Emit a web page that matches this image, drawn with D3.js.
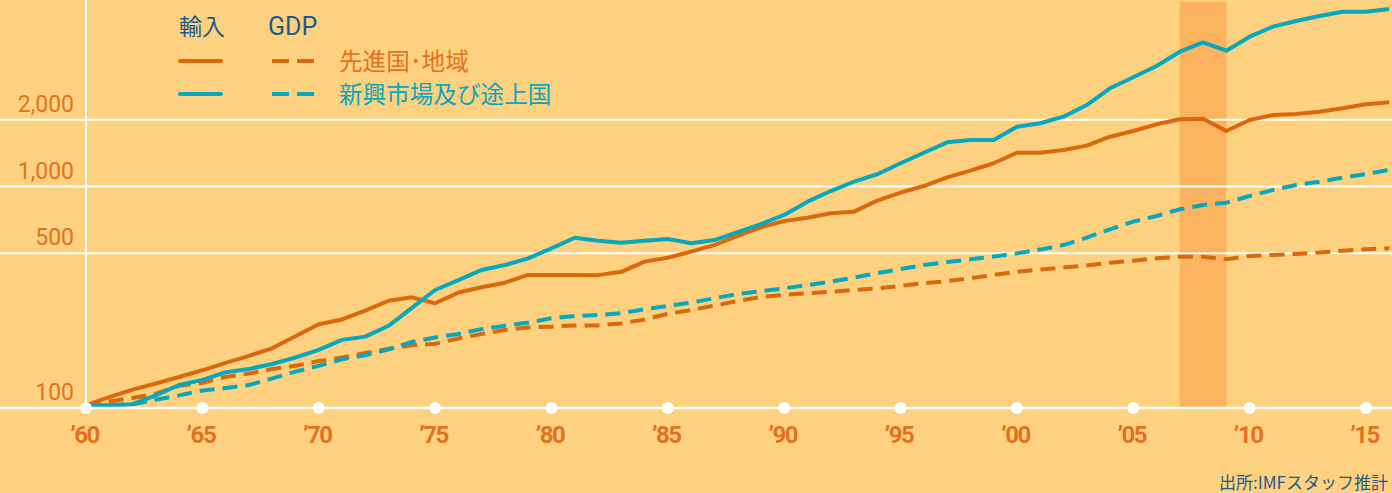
<!DOCTYPE html>
<html>
<head>
<meta charset="utf-8">
<script src="https://cdn.jsdelivr.net/npm/d3@7"></script>
<style>
  body { margin: 0; background: #FDD17F; }
  svg { display: block; }
</style>
</head>
<body>
<div class="chart_wrapper"></div>
<script>

// years 1960 - 2016, index 1960 = 100 (log scale)
const years = d3.range(1960, 2017)

const importsAdvanced = [
  103, 112, 121, 129, 138, 148, 160, 172, 186, 211,
  239, 251, 275, 305, 316, 297, 332, 351, 368, 399,
  399, 399, 398, 412, 458, 477, 508, 544, 598, 654,
  699, 723, 757, 770, 863, 938, 1005, 1100, 1179, 1273,
  1421, 1421, 1462, 1529, 1678, 1781, 1909, 2011, 2024, 1781,
  1996, 2103, 2125, 2176, 2255, 2350, 2399]

const importsEmerging = [
  103, 103, 104, 114, 127, 134, 145, 150, 158, 169,
  183, 203, 210, 235, 283, 341, 378, 420, 442, 474,
  526, 587, 569, 557, 569, 579, 554, 573, 622, 677,
  744, 854, 954, 1051, 1136, 1273, 1421, 1583, 1621, 1621,
  1862, 1929, 2066, 2333, 2776, 3112, 3499, 4061, 4477, 4103,
  4746, 5267, 5587, 5885, 6154, 6154, 6329]

const gdpAdvanced = [
  103, 107, 111, 116, 126, 130, 138, 143, 150, 155,
  163, 169, 177, 185, 192, 195, 206, 216, 225, 231,
  233, 236, 236, 241, 251, 266, 277, 290, 304, 317,
  324, 330, 335, 341, 347, 356, 366, 374, 385, 399,
  412, 422, 431, 440, 453, 462, 474, 482, 482, 469,
  486, 491, 496, 503, 513, 521, 526]

const gdpEmerging = [
  103, 103, 104, 109, 114, 120, 123, 127, 136, 146,
  155, 166, 173, 184, 199, 208, 216, 227, 235, 243,
  254, 260, 263, 268, 279, 289, 299, 313, 327, 337,
  347, 359, 372, 388, 406, 424, 442, 456, 469, 483,
  499, 519, 544, 588, 641, 694, 736, 789, 825, 845,
  906, 964, 1016, 1051, 1096, 1139, 1187]

const yTicks = [100, 500, 1000, 2000]
const xTicks = d3.range(1960, 2016, 5)
const crisisYears = [2007, 2009]

const legendHeads = ["輸入", "GDP"]
const groupNames = ["先進国･地域", "新興市場及び途上国"]
const sourceText = "出所:IMFスタッフ推計"


function drawChart() {

  let dimensions = {
    width: 1392,
    height: 493,
    margin: { top: 0, right: 3, bottom: 85, left: 86 },
  }
  dimensions.boundedWidth = 1366 - dimensions.margin.left
  dimensions.boundedHeight = dimensions.height - dimensions.margin.bottom

  const colors = {
    bg: "#FDD17F",
    orange: "#DB680C",
    teal: "#07A7BE",
    label: "#E3721F",
    navy: "#1D5A8C",
    band: "#FBB35F",
  }

  const wrapper = d3.select(".chart_wrapper")
    .append("svg")
      .attr("width", dimensions.width)
      .attr("height", dimensions.height)
      .style("background", colors.bg)

  const xScale = d3.scaleLinear()
    .domain([1960, 2015])
    .range([dimensions.margin.left, 1366])

  // log scale, 100 sits on the axis
  const yScale = d3.scaleLog()
    .domain([100, 1000])
    .range([408, 186.5])

  // shaded band (2007-09)
  wrapper.append("rect")
    .attr("x", xScale(crisisYears[0]))
    .attr("y", 2)
    .attr("width", xScale(crisisYears[1]) - xScale(crisisYears[0]))
    .attr("height", yScale(100) - 2)
    .attr("fill", colors.band)

  // gridlines
  wrapper.append("g")
    .selectAll("line")
    .data(yTicks)
    .join("line")
      .attr("x1", 0)
      .attr("x2", dimensions.width)
      .attr("y1", d => yScale(d))
      .attr("y2", d => yScale(d))
      .attr("stroke", "#fff")
      .attr("stroke-width", 2)

  // vertical axis line
  wrapper.append("line")
    .attr("x1", xScale(1960))
    .attr("x2", xScale(1960))
    .attr("y1", 0)
    .attr("y2", yScale(100))
    .attr("stroke", "#fff")
    .attr("stroke-width", 2)

  // y labels
  wrapper.append("g")
    .selectAll("text")
    .data(yTicks)
    .join("text")
      .attr("x", 74)
      .attr("y", d => yScale(d) - 8)
      .attr("text-anchor", "end")
      .attr("font-family", "Roboto, sans-serif")
      .attr("font-size", 23)
      .attr("fill", colors.label)
      .text(d3.format(","))

  // x axis
  const xAxis = d3.axisBottom(xScale)
    .tickValues(xTicks)
    .tickSize(0)
    .tickPadding(18)
    .tickFormat(d => "’" + String(d).slice(2))

  const xAxisGroup = wrapper.append("g")
    .attr("transform", `translate(0, ${yScale(100)})`)
    .call(xAxis)

  xAxisGroup.select(".domain").remove()

  xAxisGroup.selectAll(".tick text")
    .attr("font-family", "Roboto, sans-serif")
    .attr("font-weight", 700)
    .attr("font-size", 24)
    .attr("letter-spacing", -1.5)
    .attr("fill", colors.label)
    .attr("dx", -2)

  // lines
  const lineGen = values => d3.line()
    .x((d, i) => xScale(years[i]))
    .y(d => yScale(d))(values)

  const series = [
    { values: gdpAdvanced, color: colors.orange, dash: "15,8" },
    { values: gdpEmerging, color: colors.teal, dash: "15,8" },
    { values: importsAdvanced, color: colors.orange, dash: null },
    { values: importsEmerging, color: colors.teal, dash: null },
  ]

  wrapper.append("g")
    .selectAll("path")
    .data(series)
    .join("path")
      .attr("d", d => lineGen(d.values))
      .attr("fill", "none")
      .attr("stroke", d => d.color)
      .attr("stroke-width", 4)
      .attr("stroke-linejoin", "round")
      .attr("stroke-dasharray", d => d.dash)

  // axis line and dots drawn over the lines
  wrapper.append("line")
    .attr("x1", 0)
    .attr("x2", dimensions.width)
    .attr("y1", yScale(100))
    .attr("y2", yScale(100))
    .attr("stroke", "#fff")
    .attr("stroke-width", 2.5)

  wrapper.append("g")
    .selectAll("circle")
    .data(xTicks)
    .join("circle")
      .attr("cx", d => xScale(d))
      .attr("cy", yScale(100))
      .attr("r", 6)
      .attr("fill", "#fff")


  //legend

  const legend = wrapper.append("g")

  legend.selectAll(".head")
    .data(legendHeads)
    .join("text")
      .attr("class", "head")
      .attr("x", (d, i) => i == 0 ? 179 : 268)
      .attr("y", 35)
      .attr("font-family", (d, i) => i == 0 ? "'Noto Sans CJK JP', sans-serif" : "Roboto, sans-serif")
      .attr("font-size", (d, i) => i == 0 ? 23 : 25)
      .attr("fill", colors.navy)
      .text(d => d)

  const legendRows = [
    { name: groupNames[0], color: colors.orange, text: colors.label, y: 61 },
    { name: groupNames[1], color: colors.teal, text: colors.teal, y: 94 },
  ]

  const rows = legend.selectAll(".row")
    .data(legendRows)
    .join("g")
      .attr("class", "row")
      .attr("transform", d => `translate(0, ${d.y})`)

  rows.append("line")
    .attr("x1", 180).attr("x2", 221)
    .attr("stroke", d => d.color)
    .attr("stroke-width", 4)
    .attr("stroke-linecap", "round")

  rows.append("line")
    .attr("x1", 272).attr("x2", 314)
    .attr("stroke", d => d.color)
    .attr("stroke-width", 4)
    .attr("stroke-dasharray", "17,8")

  rows.append("text")
    .attr("x", 339)
    .attr("y", 9)
    .attr("font-family", "'Noto Sans CJK JP', sans-serif")
    .attr("font-size", 23.6)
    .attr("fill", d => d.text)
    .text(d => d.name)

  // source
  wrapper.append("text")
    .attr("x", 1388)
    .attr("y", 489)
    .attr("text-anchor", "end")
    .attr("font-family", "'Noto Sans CJK JP', sans-serif")
    .attr("font-size", 17)
    .attr("fill", colors.navy)
    .text(sourceText)
}

drawChart()
</script>
</body>
</html>
